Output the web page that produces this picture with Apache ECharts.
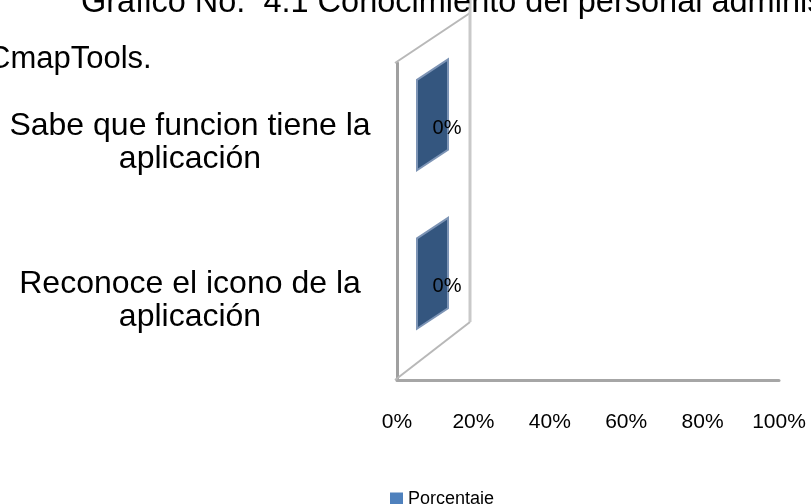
<!DOCTYPE html>
<html>
<head>
<meta charset="utf-8">
<script src="https://cdn.jsdelivr.net/npm/echarts@6/dist/echarts.min.js"></script>
<style>
  html, body { margin: 0; padding: 0; background: #fff; }
  #chart { width: 811px; height: 504px; }
</style>
</head>
<body>
<div id="chart"></div>
<script>
// datos
const categories = ['Reconoce el icono de la\naplicación', 'Sabe que funcion tiene la\naplicación'];
const porcentaje = [0, 0];
const tickLabels = ['0%', '20%', '40%', '60%', '80%', '100%'];
const seriesName = 'Porcentaje';

const font = "'Liberation Sans', Arial, sans-serif";

// barra 3D (cara lateral) + marco del grafico, todo relativo al grid
function renderBar(params, api) {
  const cs = params.coordSys;
  const p = api.coord([api.value(0), api.value(1)]);
  const band = api.size([0, 1])[1];
  const x = p[0], yc = p[1] - 4;
  const k = -0.66, d1 = 20, d2 = 51, h = band * 0.285;
  const children = [];

  if (params.dataIndex === 0) {
    const fx = cs.x - 2, top = cs.y, bot = cs.y + cs.height, bx = cs.x + 73;
    children.push(
      { type: 'line', shape: { x1: fx, y1: top, x2: bx, y2: top - 50 }, style: { stroke: '#b8b8b8', lineWidth: 2 } },
      { type: 'line', shape: { x1: fx, y1: bot, x2: bx, y2: bot - 58 }, style: { stroke: '#b8b8b8', lineWidth: 2 } },
      { type: 'line', shape: { x1: bx, y1: top - 70, x2: bx, y2: bot - 58 }, style: { stroke: '#c9c9c9', lineWidth: 3 } }
    );
  }

  children.push({
    type: 'polygon',
    shape: { points: [
      [x + d1, yc + k * d1 - h], [x + d2, yc + k * d2 - h],
      [x + d2, yc + k * d2 + h], [x + d1, yc + k * d1 + h]
    ] },
    style: { fill: '#34567f', stroke: '#7d94b5', lineWidth: 2 }
  });
  children.push({
    type: 'text',
    x: x + 50, y: p[1] - 14,
    style: {
      text: Math.round(api.value(0) * 100) + '%',
      fill: '#000', font: '20px ' + font,
      align: 'center', verticalAlign: 'middle'
    }
  });
  return { type: 'group', children: children };
}

const chart = echarts.init(document.getElementById('chart'));
chart.setOption({
  animation: false,
  backgroundColor: '#fff',
  title: [
    { text: 'Gráfico No.  4.1 Conocimiento del personal administrativo', left: 76, top: -18,
      textStyle: { fontFamily: font, fontSize: 32.5, fontWeight: 'normal', color: '#000', lineHeight: 32 } },
    { text: 'CmapTools.', left: -17, top: 38,
      textStyle: { fontFamily: font, fontSize: 31, fontWeight: 'normal', color: '#000', lineHeight: 32 } }
  ],
  legend: {
    data: [seriesName],
    left: 390, top: 490, padding: 0,
    icon: 'rect', itemWidth: 13, itemHeight: 13, itemGap: 5,
    textStyle: { fontFamily: font, fontSize: 18, color: '#000' }
  },
  grid: { left: 397, right: 32, top: 63, bottom: 124 },
  xAxis: {
    type: 'value', min: 0, max: 1, interval: 0.2,
    axisLine: { show: true, lineStyle: { color: '#a6a6a6', width: 3 } },
    axisTick: { show: false },
    splitLine: { show: false },
    axisLabel: {
      margin: 32, fontFamily: font, fontSize: 21, color: '#000',
      formatter: v => tickLabels[Math.round(v / 0.2)]
    }
  },
  yAxis: {
    type: 'category', data: categories,
    axisLine: { show: true, lineStyle: { color: '#a0a0a0', width: 3 } },
    axisTick: { show: false },
    axisLabel: {
      margin: 207, align: 'center', fontFamily: font, fontSize: 32,
      lineHeight: 33, color: '#000'
    }
  },
  series: [{
    name: seriesName,
    type: 'custom',
    itemStyle: { color: '#4f81bd' },
    encode: { x: 0, y: 1 },
    data: porcentaje.map((v, i) => [v, i]),
    renderItem: renderBar,
    clip: false
  }]
});
</script>
</body>
</html>
